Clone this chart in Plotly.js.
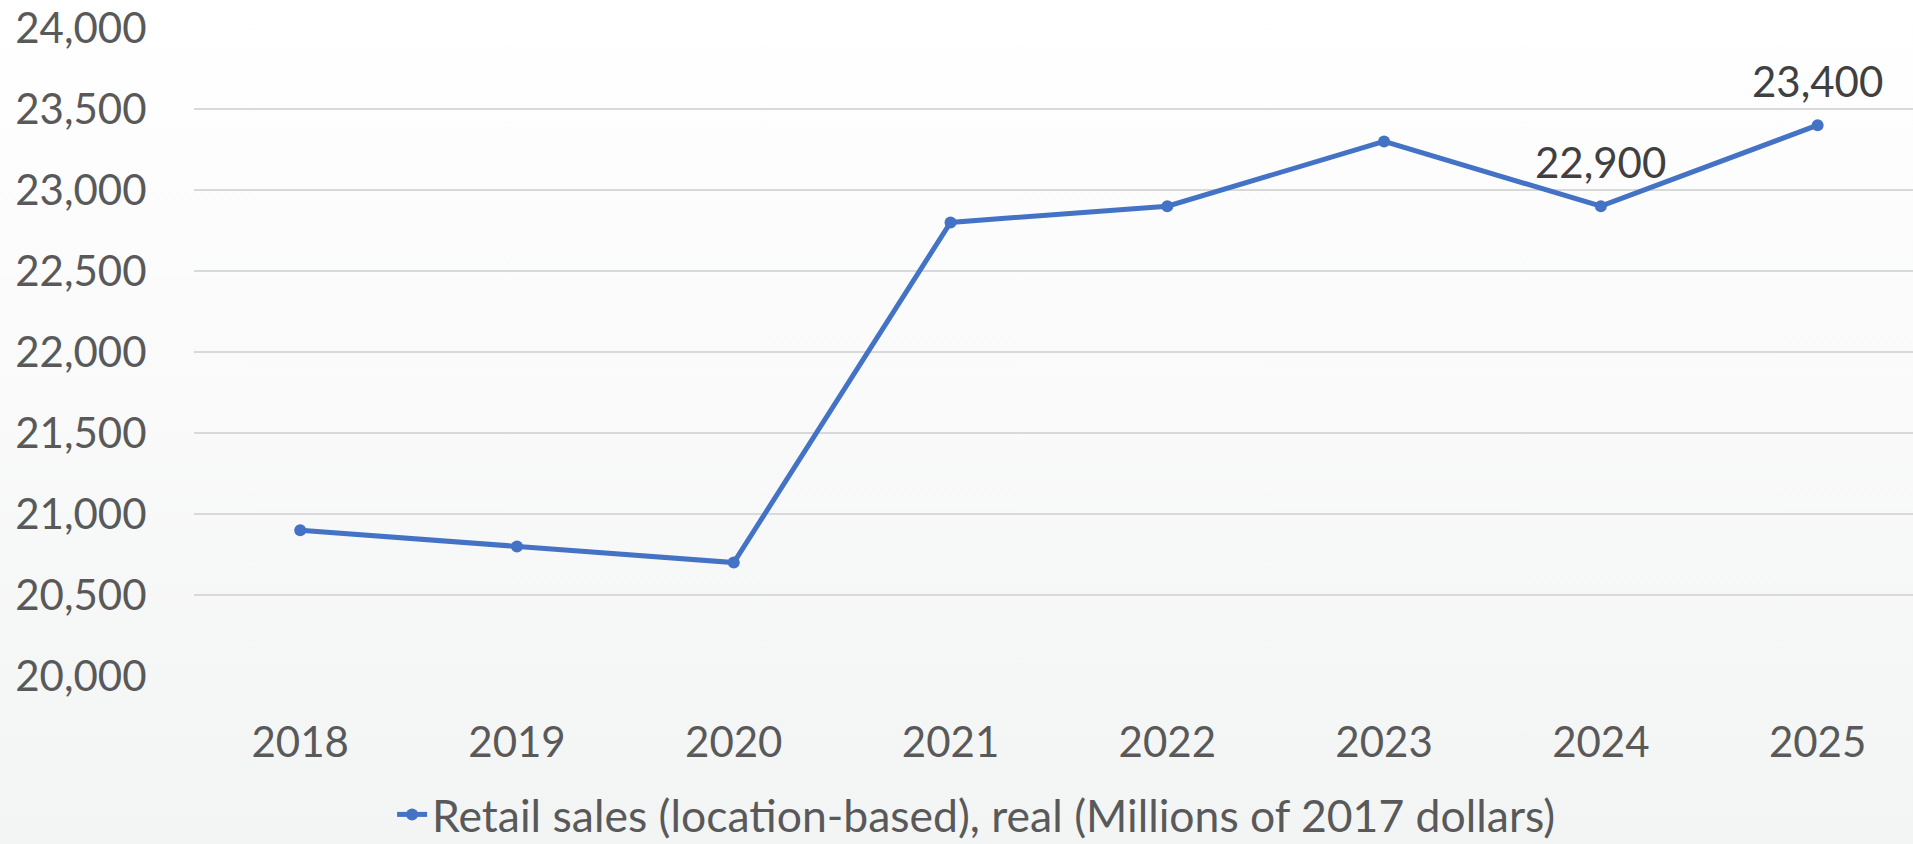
<!DOCTYPE html>
<html>
<head>
<meta charset="utf-8">
<script src="https://cdn.plot.ly/plotly-3.0.1.min.js"></script>
<style>
html, body { margin: 0; padding: 0; width: 1913px; height: 844px; overflow: hidden;
  background: linear-gradient(to bottom, #ffffff 0%, #f3f4f4 100%); }
#chart { width: 1913px; height: 844px; }
</style>
</head>
<body>
<div id="chart"></div>
<script>
const years = ['2018', '2019', '2020', '2021', '2022', '2023', '2024', '2025'];
const retailSales = [20900, 20800, 20700, 22800, 22900, 23300, 22900, 23400];
const dataLabels = ['', '', '', '', '', '', '22,900', '23,400'];
const seriesName = 'Retail sales (location-based), real (Millions of 2017 dollars)';
const yTicks = [20000, 20500, 21000, 21500, 22000, 22500, 23000, 23500, 24000];

const FONT = 'Lato, "Open Sans", sans-serif';

const trace = {
  x: years,
  y: retailSales,
  type: 'scatter',
  mode: 'lines+markers',
  name: seriesName,
  line: { color: '#4472C4', width: 5 },
  marker: { color: '#4472C4', size: 12 },
  cliponaxis: false,
  showlegend: true
};

const annotations = [];
years.forEach((yr, i) => {
  if (dataLabels[i]) {
    annotations.push({
      x: i, y: retailSales[i], xref: 'x', yref: 'y',
      text: dataLabels[i], showarrow: false,
      xanchor: 'center', yanchor: 'middle', yshift: 44,
      font: { family: FONT, size: 42, color: '#404040' }
    });
  }
});

const layout = {
  width: 1913,
  height: 844,
  margin: { l: 194, r: 0, t: 28, b: 168 },
  paper_bgcolor: 'rgba(0,0,0,0)',
  plot_bgcolor: 'rgba(0,0,0,0)',
  font: { family: FONT, color: '#595959', size: 42 },
  showlegend: true,
  annotations: annotations,
  legend: {
    orientation: 'h',
    x: 0.5105, xanchor: 'center', xref: 'container',
    y: 0.035, yanchor: 'middle', yref: 'container',
    font: { family: FONT, size: 44.5, color: '#595959' },
    bgcolor: 'rgba(0,0,0,0)',
    itemwidth: 30
  },
  xaxis: {
    type: 'category',
    range: [-0.49, 7.44],
    showgrid: false,
    zeroline: false,
    showline: false,
    ticks: 'outside',
    ticklen: 30,
    tickcolor: 'rgba(0,0,0,0)',
    tickfont: { family: FONT, size: 42, color: '#595959' }
  },
  yaxis: {
    range: [20000, 24000],
    tickvals: yTicks,
    tickformat: ',d',
    showgrid: true,
    gridcolor: '#d9d9d9',
    gridwidth: 1.7,
    zeroline: false,
    showline: false,
    ticks: 'outside',
    ticklen: 38,
    tickcolor: 'rgba(0,0,0,0)',
    tickfont: { family: FONT, size: 42, color: '#595959' }
  }
};

Plotly.newPlot('chart', [trace], layout, { displayModeBar: false, staticPlot: true });
</script>
</body>
</html>
